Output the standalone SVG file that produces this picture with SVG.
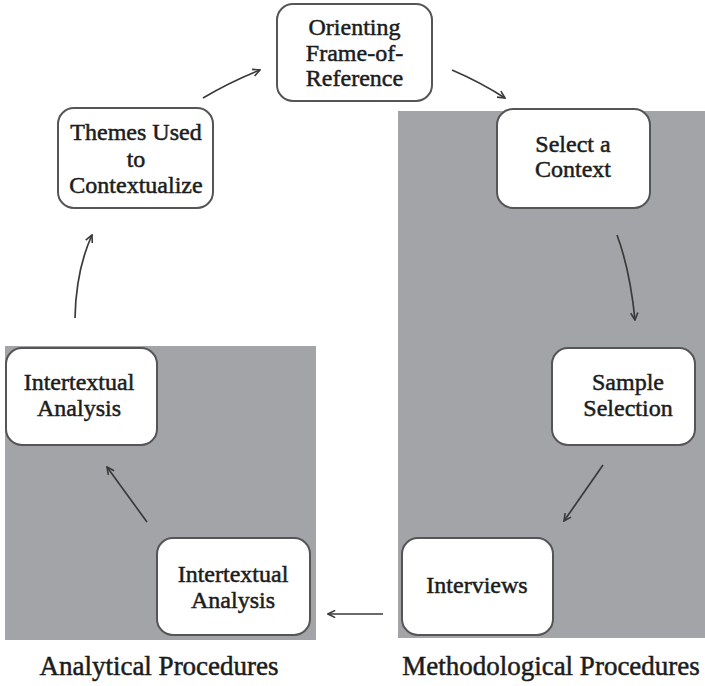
<svg xmlns="http://www.w3.org/2000/svg" width="705" height="686" viewBox="0 0 705 686">
<style>
.panel{fill:#a3a4a8;stroke:none}
.node rect{fill:#fff;stroke:#555;stroke-width:2}
.node text,.label{font-family:"Liberation Serif","Times New Roman",serif;fill:#1c1c1c;stroke:#1c1c1c;stroke-width:0.5;text-anchor:middle}
.node text{font-size:24px}
.label{font-size:27px}
.conn path{fill:none;stroke:#3a3a3a;stroke-width:1.7}
</style>
<defs>
<marker id="ah" viewBox="0 0 10 10" refX="9" refY="5" markerWidth="9" markerHeight="9" markerUnits="userSpaceOnUse" orient="auto">
<path d="M1,1 L9,5 L1,9" fill="none" stroke="#3a3a3a" stroke-width="1.8"/>
</marker>
</defs>
<rect width="705" height="686" fill="#fff"/>
<rect class="panel" x="398" y="111" width="307" height="527"/>
<rect class="panel" x="5" y="346" width="311" height="294"/>
<g class="conn">
<path d="M203,98 Q230,82 260,70" marker-end="url(#ah)"/>
<path d="M452,70 Q480,82 505,98" marker-end="url(#ah)"/>
<path d="M617,235 Q630,270 635,320" marker-end="url(#ah)"/>
<path d="M603,465 L564,521" marker-end="url(#ah)"/>
<path d="M383,614 L328,614" marker-end="url(#ah)"/>
<path d="M147,522 L107,467" marker-end="url(#ah)"/>
<path d="M75,318 Q76,270 92,235" marker-end="url(#ah)"/>
</g>
<g class="node" id="orienting">
<rect x="277" y="4" width="155" height="97" rx="16"/>
<text x="354.5" y="35">Orienting</text>
<text x="354.5" y="61">Frame-of-</text>
<text x="354.5" y="86">Reference</text>
</g>
<g class="node" id="themes">
<rect x="58" y="108" width="155" height="100" rx="16"/>
<text x="136" y="140">Themes Used</text>
<text x="136" y="167">to</text>
<text x="136" y="193">Contextualize</text>
</g>
<g class="node" id="select">
<rect x="497" y="109" width="153" height="99" rx="16"/>
<text x="573" y="152">Select a</text>
<text x="573" y="177">Context</text>
</g>
<g class="node" id="sample">
<rect x="552" y="348" width="143" height="97" rx="16"/>
<text x="628" y="390">Sample</text>
<text x="628" y="416">Selection</text>
</g>
<g class="node" id="interviews">
<rect x="402" y="538" width="151" height="97" rx="16"/>
<text x="477" y="593">Interviews</text>
</g>
<g class="node" id="intertextual2">
<rect x="157" y="538" width="153" height="97" rx="16"/>
<text x="233" y="582">Intertextual</text>
<text x="233" y="608">Analysis</text>
</g>
<g class="node" id="intertextual1">
<rect x="6" y="348" width="151" height="97" rx="16"/>
<text x="79" y="390">Intertextual</text>
<text x="79" y="416">Analysis</text>
</g>
<text class="label" x="159" y="675">Analytical Procedures</text>
<text class="label" x="551" y="675">Methodological Procedures</text>
</svg>
